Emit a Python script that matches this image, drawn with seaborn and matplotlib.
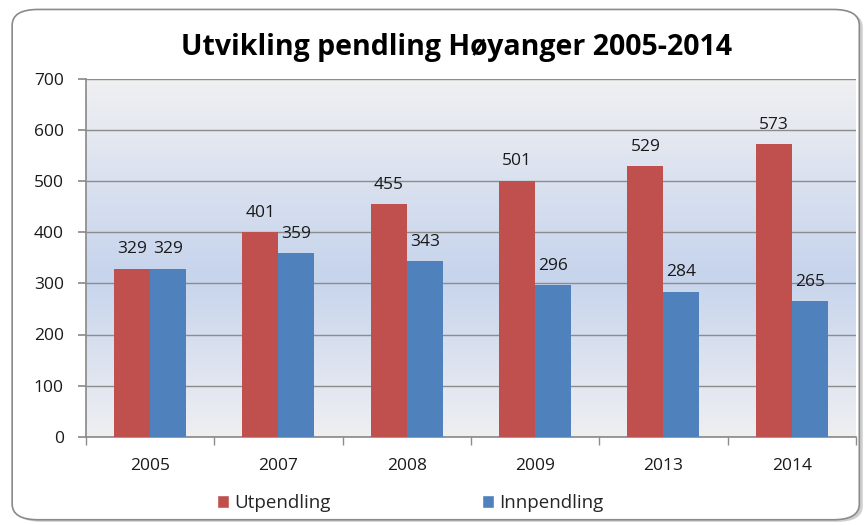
import numpy as np
import pandas as pd
import matplotlib
matplotlib.use('Agg')
import matplotlib.pyplot as plt
import seaborn as sns
from matplotlib.patches import FancyBboxPatch, Rectangle
from matplotlib.colors import LinearSegmentedColormap

years = ['2005', '2007', '2008', '2009', '2013', '2014']
utpendling = [329, 401, 455, 501, 529, 573]
innpendling = [329, 359, 343, 296, 284, 265]
series_names = ['Utpendling', 'Innpendling']
COLORS = ['#c0504d', '#4f81bd']

df = pd.DataFrame({
    'year': years * 2,
    'value': utpendling + innpendling,
    'series': [series_names[0]] * len(years) + [series_names[1]] * len(years),
})

sns.set_theme(style='white')
plt.rcParams['font.family'] = ['Open Sans', 'DejaVu Sans']

fig = plt.figure(figsize=(8.68, 5.25), dpi=100)

# rounded frame with a soft shadow
shadow = FancyBboxPatch((0.018, 0.006), 0.976, 0.972, boxstyle='round,pad=0,rounding_size=0.03',
                        transform=fig.transFigure, fc='#b0b0b0', ec='none', alpha=0.6, zorder=-2)
frame = FancyBboxPatch((0.014, 0.01), 0.976, 0.972, boxstyle='round,pad=0,rounding_size=0.03',
                       transform=fig.transFigure, fc='white', ec='#8a8a8a', lw=1.2, zorder=-1)
fig.patches.extend([shadow, frame])

ax = fig.add_axes([0.099, 0.168, 0.887, 0.682])
ax.set_facecolor('none')

# gradient plot background
grad = LinearSegmentedColormap.from_list('bg', [(0, '#f0f0f2'), (0.55, '#c6d4ec'), (1, '#efeff2')])
ax.imshow(np.linspace(0, 1, 256).reshape(-1, 1), cmap=grad, aspect='auto',
          extent=(-0.5, 5.5, 0, 700), zorder=0, origin='upper')

sns.barplot(data=df, x='year', y='value', hue='series', palette=COLORS,
            width=0.56, saturation=1, linewidth=0, ax=ax, zorder=3, legend=False)

for cont in ax.containers:
    ax.bar_label(cont, padding=8, fontsize=12.5, color='#1a1a1a')

ax.set_xlim(-0.5, 5.5)
ax.set_ylim(0, 700)
ax.set_yticks(range(0, 701, 100))
ax.yaxis.grid(True, color='#8c8c8c', lw=1)
ax.set_axisbelow(True)
ax.set_xlabel('')
ax.set_ylabel('')
for s in ['top', 'right']:
    ax.spines[s].set_visible(False)
ax.spines['left'].set_color('#8c8c8c')
ax.spines['bottom'].set_color('#8c8c8c')
ax.tick_params(axis='y', left=True, length=6, color='#8c8c8c', labelsize=12.5, pad=10, labelcolor='#1a1a1a')
ax.tick_params(axis='x', length=0, labelsize=12.5, pad=15, labelcolor='#1a1a1a')
ax.set_xticks(np.arange(-0.5, 6, 1), minor=True)
ax.tick_params(axis='x', which='minor', bottom=True, length=6, color='#8c8c8c')

fig.text(0.526, 0.91, 'Utvikling pendling Høyanger 2005-2014', ha='center', va='center',
         fontsize=20.5, fontweight='bold', color='black')

# legend
handles = [Rectangle((0, 0), 1, 1, fc=c) for c in COLORS]
fig.legend(handles, series_names, loc='center', bbox_to_anchor=(0.4725, 0.042), ncol=2,
           frameon=False, fontsize=13.5, handlelength=0.65, handleheight=0.65,
           handletextpad=0.3, columnspacing=8.05)

fig.savefig('out.png', dpi=100)
